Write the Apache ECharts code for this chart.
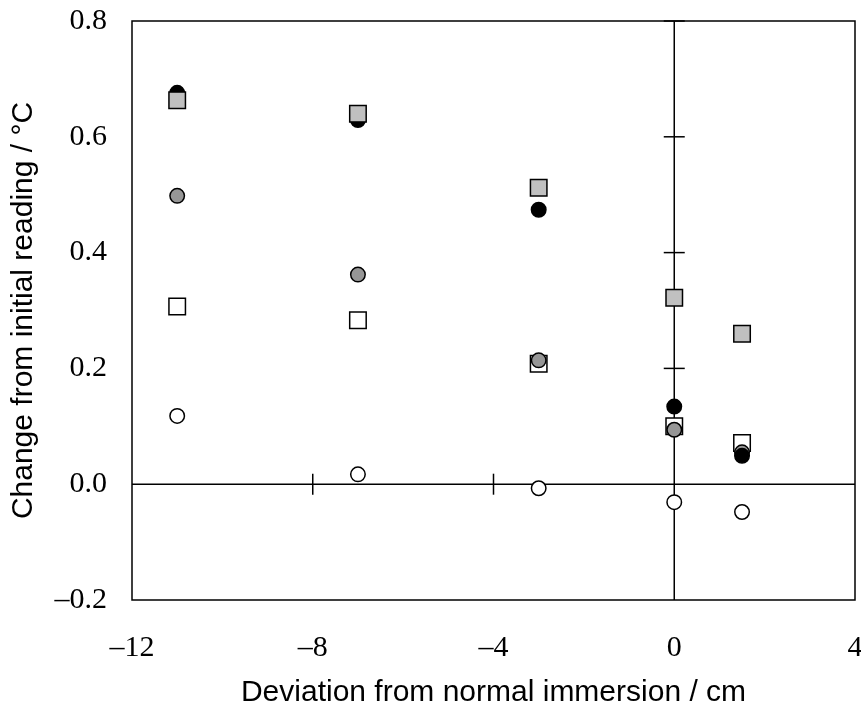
<!DOCTYPE html>
<html>
<head>
<meta charset="utf-8">
<script src="https://cdn.jsdelivr.net/npm/echarts@6/dist/echarts.min.js"></script>
<style>
html,body{margin:0;padding:0;background:#fff;}
#chart{width:861px;height:710px;}
</style>
</head>
<body>
<div id="chart"></div>
<script>
// x positions (deviation from normal immersion, cm)
const xValues = [-11, -7, -3, 0, 1.5];
// series values (change from initial reading, °C)
const blackCircles = [0.676, 0.629, 0.474, 0.134, 0.049];
const grayCircles  = [0.498, 0.362, 0.214, 0.094, 0.055];
const openCircles  = [0.118, 0.017, -0.007, -0.031, -0.048];
const graySquares  = [0.663, 0.640, 0.512, 0.322, 0.260];
const openSquares  = [0.307, 0.283, 0.208, 0.100, 0.071];
// axis ticks
const xTicks = [-12, -8, -4, 0, 4];
const yTicks = [-0.2, 0.0, 0.2, 0.4, 0.6, 0.8];
// tick marks crossing the zero lines
const zeroLineXTicks = [-8, -4];
const zeroLineYTicks = [0.2, 0.4, 0.6, 0.8];

const xMin = xTicks[0], xMax = xTicks[xTicks.length - 1];
const yMin = yTicks[0], yMax = yTicks[yTicks.length - 1];

function pairs(vals) { return xValues.map((x, i) => [x, vals[i]]); }
function fmt(v, d) {
  const s = Math.abs(v).toFixed(d);
  return (v < -1e-9 ? '\u2013' : '') + s;
}

const chart = echarts.init(document.getElementById('chart'));
const serifFont = '"Liberation Serif", "Times New Roman", serif';
const sansFont = '"Liberation Sans", Arial, sans-serif';

function scatter(name, data, symbol, size, fill, z) {
  return {
    name, type: 'scatter', data: pairs(data), symbol, symbolSize: size, z,
    itemStyle: { color: fill, borderColor: '#000', borderWidth: 1.5, opacity: 1 },
    emphasis: { disabled: true }
  };
}

chart.setOption({
  animation: false,
  backgroundColor: '#fff',
  grid: { left: 132, right: 6, top: 21, bottom: 110, outerBoundsMode: 'none', containLabel: false,
          show: true, borderColor: '#000', borderWidth: 1.5, backgroundColor: 'transparent' },
  xAxis: {
    type: 'value', min: xMin, max: xMax, interval: 4,
    axisLine: { show: false }, axisTick: { show: false }, splitLine: { show: false },
    axisLabel: { fontFamily: serifFont, fontSize: 30, color: '#000', margin: 33, formatter: v => fmt(v, 0) },
    name: 'Deviation from normal immersion / cm', nameLocation: 'middle', nameGap: 78,
    nameTextStyle: { fontFamily: sansFont, fontSize: 30, color: '#000' }
  },
  yAxis: {
    type: 'value', min: yMin, max: yMax, interval: 0.2,
    axisLine: { show: false }, axisTick: { show: false }, splitLine: { show: false },
    axisLabel: { fontFamily: serifFont, fontSize: 30, color: '#000', margin: 25, formatter: v => fmt(v, 1) },
    name: 'Change from initial reading / \u00B0C', nameLocation: 'middle', nameGap: 93,
    nameTextStyle: { fontFamily: sansFont, fontSize: 30, color: '#000' }
  },
  series: [
    {
      type: 'custom', silent: true, z: 1, clip: false, data: [[0, 0]],
      renderItem: function (params, api) {
        const o = api.coord([0, 0]);
        const l = api.coord([xMin, 0]), r = api.coord([xMax, 0]);
        const t = api.coord([0, yMax]), b = api.coord([0, yMin]);
        const st = { stroke: '#000', lineWidth: 1.5 };
        const ch = [
          { type: 'line', shape: { x1: l[0], y1: o[1], x2: r[0], y2: o[1] }, style: st },
          { type: 'line', shape: { x1: o[0], y1: t[1], x2: o[0], y2: b[1] }, style: st }
        ];
        zeroLineXTicks.forEach(x => {
          const p = api.coord([x, 0]);
          ch.push({ type: 'line', shape: { x1: p[0], y1: p[1] - 10.5, x2: p[0], y2: p[1] + 10.5 }, style: st });
        });
        zeroLineYTicks.forEach(y => {
          const p = api.coord([0, y]);
          ch.push({ type: 'line', shape: { x1: p[0] - 10.5, y1: p[1], x2: p[0] + 10.5, y2: p[1] }, style: st });
        });
        return { type: 'group', children: ch };
      }
    },
    scatter('open squares', openSquares, 'rect', 16.5, '#ffffff', 2),
    scatter('gray circles', grayCircles, 'circle', 14.5, '#969696', 3),
    scatter('black circles', blackCircles, 'circle', 14.5, '#000000', 4),
    scatter('gray squares', graySquares, 'rect', 16.5, '#c0c0c0', 5),
    scatter('open circles', openCircles, 'circle', 14.5, '#ffffff', 6)
  ]
});
</script>
</body>
</html>
